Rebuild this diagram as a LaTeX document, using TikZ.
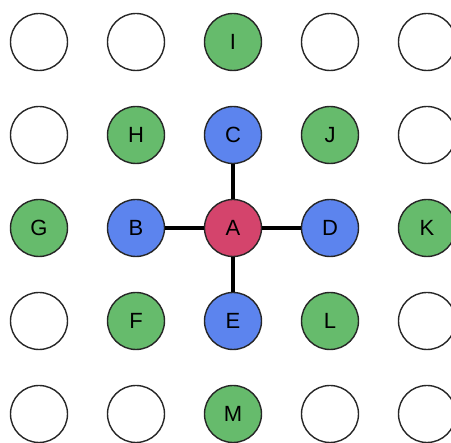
\documentclass[tikz,border=0pt]{standalone}
\usepackage{fontspec}
\setmainfont{Liberation Sans}
\definecolor{cellgreen}{RGB}{102,187,108}
\definecolor{cellblue}{RGB}{92,132,238}
\definecolor{cellred}{RGB}{212,68,108}
% grid cell (column, row) -> position
\newcommand{\cellat}[2]{(39+97*#1,42+93*#2)}

\begin{document}
\begin{tikzpicture}[
  x=1pt,y=-1pt,
  every node/.style={circle,draw=black!85,line width=1.4pt,fill=white,
    minimum size=57pt,inner sep=0pt,font=\fontsize{22}{22}\selectfont},
  hop/.style={fill=cellred},
  near/.style={fill=cellblue},
  far/.style={fill=cellgreen},
  link/.style={draw,line width=3.2pt},
  ]
  \useasboundingbox (0,0) rectangle (451,443);
  % empty cells
  \foreach \c/\r in {0/0,1/0,3/0,4/0,0/1,4/1,0/3,4/3,0/4,1/4,3/4,4/4}
    \node(cell-\c-\r) at \cellat{\c}{\r} {};
  \node[hop](A) at \cellat{2}{2} {A};
  \node[near](B) at \cellat{1}{2} {B};
  \node[near](C) at \cellat{2}{1} {C};
  \node[near](D) at \cellat{3}{2} {D};
  \node[near](E) at \cellat{2}{3} {E};
  \node[far](F) at \cellat{1}{3} {F};
  \node[far](G) at \cellat{0}{2} {G};
  \node[far](H) at \cellat{1}{1} {H};
  \node[far](I) at \cellat{2}{0} {I};
  \node[far](J) at \cellat{3}{1} {J};
  \node[far](K) at \cellat{4}{2} {K};
  \node[far](L) at \cellat{3}{3} {L};
  \node[far](M) at \cellat{2}{4} {M};
  % links from the centre
  \foreach \n in {B,C,D,E}
    \draw[link] (A) -- (\n);
\end{tikzpicture}
\end{document}
